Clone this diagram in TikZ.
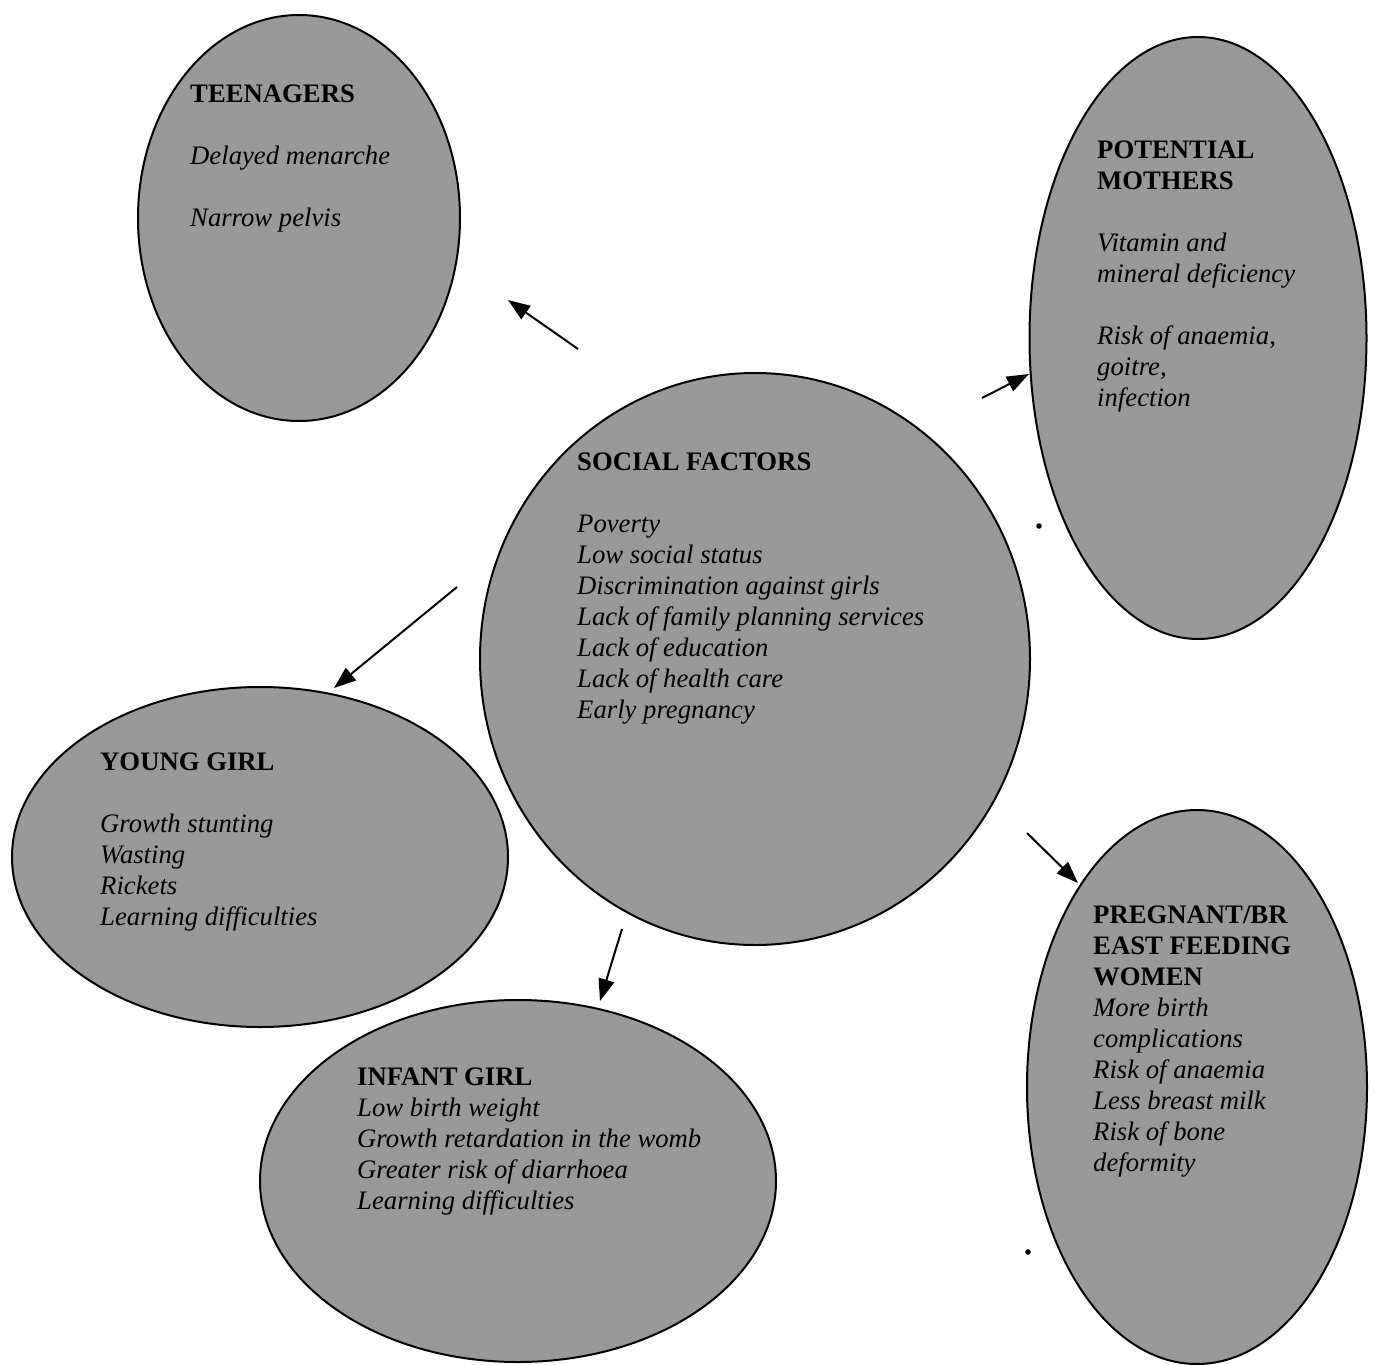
\documentclass[tikz,border=0pt]{standalone}
\usepackage{fontspec}
\setmainfont{Liberation Serif}
\usetikzlibrary{shapes.geometric,arrows.meta}
\tikzset{
  blob/.style={ellipse, draw=black, line width=2pt, fill=black!40, inner sep=0pt, minimum width=#1},
  txt/.style={anchor=base west, inner sep=0pt, font=\fontsize{26.7}{31}\selectfont},
  arr/.style={line width=2pt, -{Triangle[length=22pt,width=16pt]}},
}
\newcommand{\hdline}[1]{\hbox{\textbf{#1}}}
\newcommand{\itline}[1]{\hbox{\textit{#1}}}
\newcommand{\gapline}{\hbox{}}
\newcommand{\stacklines}[1]{\vtop{\lineskiplimit=0pt #1}}
\begin{document}
\begin{tikzpicture}[x=1pt,y=-1pt]
\useasboundingbox (0,0) rectangle (1374,1365);
% ellipses
\node[blob=322pt, minimum height=406pt] (teen) at (299,218) {};
\node[blob=337pt, minimum height=602pt] (moth) at (1198,338) {};
\node[blob=550pt, minimum height=572pt] (soc) at (755,659) {};
\node[blob=496pt, minimum height=340pt] (young) at (260,857) {};
\node[blob=516pt, minimum height=362pt] (infant) at (518,1181) {};
\node[blob=340pt, minimum height=554pt] (preg) at (1197,1087) {};
% texts
\node[txt] (teentxt) at (190,102) {\stacklines{\hdline{TEENAGERS}\gapline\itline{Delayed menarche}\gapline\itline{Narrow pelvis}}};
\node[txt] (mothtxt) at (1097,158) {\stacklines{\hdline{POTENTIAL}\hdline{MOTHERS}\gapline\itline{Vitamin and}\itline{mineral deficiency}\gapline\itline{Risk of anaemia,}\itline{goitre,}\itline{infection}}};
\node[txt] (soctxt) at (577,470) {\stacklines{\hdline{SOCIAL FACTORS}\gapline\itline{Poverty}\itline{Low social status}\itline{Discrimination against girls}\itline{Lack of family planning services}\itline{Lack of education}\itline{Lack of health care}\itline{Early pregnancy}}};
\node[txt] (youngtxt) at (100,770) {\stacklines{\hdline{YOUNG GIRL}\gapline\itline{Growth stunting}\itline{Wasting}\itline{Rickets}\itline{Learning difficulties}}};
\node[txt] (infanttxt) at (357,1085) {\stacklines{\hdline{INFANT GIRL}\itline{Low birth weight}\itline{Growth retardation in the womb}\itline{Greater risk of diarrhoea}\itline{Learning difficulties}}};
\node[txt] (pregtxt) at (1093,923) {\stacklines{\hdline{PREGNANT/BR}\hdline{EAST FEEDING}\hdline{WOMEN}\itline{More birth}\itline{complications}\itline{Risk of anaemia}\itline{Less breast milk}\itline{Risk of bone}\itline{deformity}}};
% arrow ends
\coordinate (a1) at (578,349);  \coordinate (b1) at (508,300);
\coordinate (a2) at (982,398);  \coordinate (b2) at (1029,374);
\coordinate (a3) at (457,587);  \coordinate (b3) at (334,688);
\coordinate (a4) at (622,929);  \coordinate (b4) at (600,1001);
\coordinate (a5) at (1027,833); \coordinate (b5) at (1078,883);
\draw[arr] (a1) -- (b1);
\draw[arr] (a2) -- (b2);
\draw[arr] (a3) -- (b3);
\draw[arr] (a4) -- (b4);
\draw[arr] (a5) -- (b5);
% stray dots
\fill (1039,526) circle (2.8pt);
\fill (1028,1252) circle (2.8pt);
\end{tikzpicture}
\end{document}
